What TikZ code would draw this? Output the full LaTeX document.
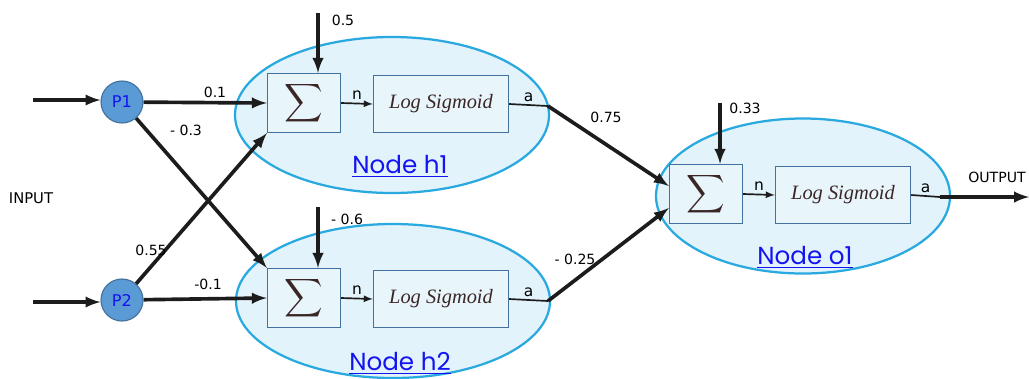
\documentclass[tikz,border=0pt]{standalone}
\usepackage{graphicx}
\usepackage{fontspec}
\setmainfont{DejaVu Sans}
\newfontfamily\geofont{Poppins}
\newfontfamily\sigfont{Liberation Serif}
\usetikzlibrary{shapes.geometric,positioning}
\tikzset{>=latex}
\definecolor{ellline}{HTML}{29A9E0}
\definecolor{ellfill}{HTML}{E2F3FB}
\definecolor{boxline}{HTML}{41719C}
\definecolor{boxfill}{HTML}{E8F6FC}
\definecolor{pfill}{HTML}{5B9BD5}
\definecolor{pblue}{HTML}{1414F0}
\definecolor{sigtext}{HTML}{3B2626}
\definecolor{wire}{HTML}{1C1C1C}
\tikzset{neuron/.style={ellipse, draw=ellline, fill=ellfill, line width=1.6pt, inner sep=0pt}}
\tikzset{sumbox/.style={draw=boxline, fill=boxfill, line width=1pt, minimum width=73*0.025cm, minimum height=59*0.025cm, inner sep=0pt, text=sigtext}}
\tikzset{sigbox/.style={draw=boxline, fill=boxfill, line width=1pt, minimum width=135*0.025cm, minimum height=57*0.025cm, inner sep=0pt, font=\fontsize{14.5}{14.5}\selectfont\sigfont\itshape, text=sigtext}}
\tikzset{pnode/.style={circle, draw=boxline, fill=pfill, line width=0.8pt, minimum size=42*0.025cm, inner sep=0pt, text=pblue, font=\fontsize{11.5}{11.5}\selectfont}}
\tikzset{thickwire/.style={->, draw=wire, line width=2.6pt}}
\tikzset{thinwire/.style={draw=wire, line width=1.2pt}}
\tikzset{wlabel/.style={font=\fontsize{10}{10}\selectfont, text=black, inner sep=0pt}}
\tikzset{nodename/.style={font=\fontsize{17.5}{17.5}\selectfont\geofont, text=pblue, inner sep=1pt}}
\newcommand{\bigsum}{\raisebox{-2pt}{\scalebox{1.9}{$\displaystyle\sum$}}}
\newcommand{\nodetitle}[1]{\underline{#1}}
\begin{document}
\begin{tikzpicture}[x=0.025cm,y=-0.025cm]
  \useasboundingbox (0,0) rectangle (1029,378);
  % neurons
  \node[neuron, minimum width=314*0.025cm, minimum height=156*0.025cm] (h1) at (392,115) {};
  \node[neuron, minimum width=314*0.025cm, minimum height=154*0.025cm] (h2) at (393,301) {};
  \node[neuron, minimum width=294*0.025cm, minimum height=155*0.025cm] (o1) at (803,196) {};
  \node[sumbox] (sumh1) at (304,103) {\bigsum};
  \node[sigbox] (logh1) at (441,104) {Log Sigmoid};
  \node[sumbox] (sumh2) at (304,298) {\bigsum};
  \node[sigbox] (logh2) at (441,299) {Log Sigmoid};
  \node[sumbox] (sumo1) at (706,194) {\bigsum};
  \node[sigbox] (logo1) at (843,195) {Log Sigmoid};
  \node[nodename] (th1) at (400,166) {\nodetitle{Node h1}};
  \node[nodename] (th2) at (400,363) {\nodetitle{Node h2}};
  \node[nodename] (to1) at (805,257) {\nodetitle{Node o1}};
  % inputs
  \node[pnode] (p1) at (122,102) {P1};
  \node[pnode] (p2) at (122,300) {P2};
  \coordinate (in1) at (33,100);
  \coordinate (in2) at (33,302);
  \node[wlabel, font=\fontsize{10.5}{10.5}\selectfont] (input) at (31,198) {INPUT};
  \draw[thickwire] (in1) -- (p1.west |- in1);
  \draw[thickwire] (in2) -- (p2.west |- in2);
  % weights
  \draw[thickwire] (p1) -- (sumh1.west);
  \draw[thickwire] (p1) -- (sumh2.north west);
  \draw[thickwire] (p2) -- (sumh1.south west);
  \draw[thickwire] (p2) -- (sumh2.west);
  \node[wlabel] (w11) at (215,92) {0.1};
  \node[wlabel] (w12) at (186,130) {- 0.3};
  \node[wlabel] (w21) at (151,250) {0.55};
  \node[wlabel] (w22) at (208,284) {-0.1};
  % biases
  \coordinate (bh1) at (318,13);
  \coordinate (bh2) at (318,207);
  \coordinate (bo1) at (720,103);
  \draw[thickwire] (bh1) -- (bh1 |- sumh1.north);
  \draw[thickwire] (bh2) -- (bh2 |- sumh2.north);
  \draw[thickwire] (bo1) -- (bo1 |- sumo1.north);
  \node[wlabel] (bl1) at (343,20) {0.5};
  \node[wlabel] (bl2) at (347,219) {- 0.6};
  \node[wlabel] (bl3) at (745,108) {0.33};
  % n and a
  \foreach \s/\l in {h1/h1, h2/h2, o1/o1} {
    \draw[thinwire, ->] (sum\s.east) -- (log\l.west) node[midway, above=2pt, wlabel, font=\fontsize{11}{11}\selectfont] {n};
  }
  \coordinate (ah1) at (548,106);
  \coordinate (ah2) at (548,301);
  \coordinate (ao1) at (940,197);
  \draw[thinwire] (logh1.east) -- (ah1) node[midway, above=2pt, wlabel, font=\fontsize{11}{11}\selectfont] {a};
  \draw[thinwire] (logh2.east) -- (ah2) node[midway, above=2pt, wlabel, font=\fontsize{11}{11}\selectfont] {a};
  \draw[thinwire] (logo1.east) -- (ao1) node[midway, above=2pt, wlabel, font=\fontsize{11}{11}\selectfont] {a};
  \draw[thickwire] (ah1) -- (sumo1.west |- 0,186);
  \draw[thickwire] (ah2) -- (sumo1.west |- 0,208);
  \node[wlabel] (v1) at (606,117) {0.75};
  \node[wlabel] (v2) at (575,259) {- 0.25};
  \coordinate (out) at (1029,197);
  \draw[thickwire] (ao1) -- (out);
  \node[wlabel] (output) at (997,177) {OUTPUT};
\end{tikzpicture}
\end{document}
